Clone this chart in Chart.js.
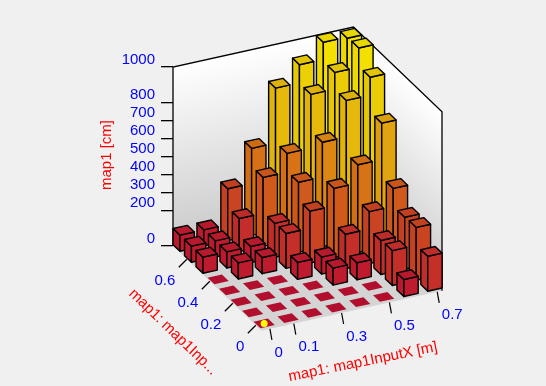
<!DOCTYPE html>
<html>
<head>
<meta charset="utf-8">
<style>
html, body { margin: 0; padding: 0; background: #f0f0f0; }
canvas { display: block; }
</style>
<script src="https://cdn.jsdelivr.net/npm/chart.js@4/dist/chart.umd.min.js"></script>
</head>
<body>
<canvas id="map1Chart" width="546" height="386"></canvas>
<script>
/* --- Data --- */
const xValues = [0, 0.1, 0.2, 0.3, 0.4, 0.5, 0.6, 0.7];
const yValues = [0, 0.1, 0.2, 0.3, 0.4, 0.5, 0.6, 0.7];
// one row per yValue, one entry per xValue [cm]
const heights = [
    [0, 0, 0, 0, 0, 0, 95, 195],
    [0, 0, 0, 0, 0, 0, 195, 295],
    [0, 0, 0, 0, 95, 95, 190, 290],
    [0, 0, 0, 95, 95, 193, 290, 390],
    [0, 90, 90, 195, 290, 388, 490, 693],
    [90, 90, 90, 190, 390, 584, 788, 888],
    [90, 90, 185, 385, 490, 790, 883, 990],
    [90, 90, 290, 486, 793, 894, 990, 983]
];
const xTicks = [0, 0.1, 0.3, 0.5, 0.7];
const yTicks = [0, 0.2, 0.4, 0.6];
const zTicks = [0, 200, 300, 400, 500, 600, 700, 800, 1000];
const xRange = [-0.035, 0.72];
const yRange = [-0.05, 0.72];
const zTop = 1000;
const colorStops = [0, 100, 200, 300, 400, 500, 600, 700, 800, 900, 1000];
const colorValues = ['#b8102f', '#bf1c2e', '#c5302a', '#ca4522', '#d15c1b', '#d87416', '#dd8b13', '#e2a510', '#e6bb0c', '#ecd006', '#f4e200'];

/* --- Oblique view: floor axes expressed in the two plain scales --- */
const runX = 239, riseX = 296, runY = 115, dropY = 615, barHalf = 0.03;

function project(x, y, z) {
    return {
        x: (x - xRange[0]) * runX + (yRange[1] - y) * runY,
        y: z + (x - xRange[0]) * riseX - (yRange[1] - y) * dropY
    };
}

function heatColor(z, shade) {
    let i = 0;
    while (i < colorStops.length - 2 && z > colorStops[i + 1]) i++;
    const t = (z - colorStops[i]) / (colorStops[i + 1] - colorStops[i]);
    const rgb = [1, 3, 5].map(k => {
        const a = parseInt(colorValues[i].substr(k, 2), 16);
        const b = parseInt(colorValues[i + 1].substr(k, 2), 16);
        return Math.round((a + (b - a) * t) * shade);
    });
    return `rgb(${rgb.join(',')})`;
}

function polygon(corners, fillColor, lineWidth) {
    const pts = corners.map(c => project(c[0], c[1], c[2]));
    pts.push(pts[0]);
    return {
        data: pts, showLine: true, fill: 'shape', tension: 0, clip: false,
        pointRadius: 0, backgroundColor: fillColor, borderColor: '#000',
        borderWidth: lineWidth, borderJoinStyle: 'round'
    };
}

function edge(corners) {
    return {
        data: corners.map(c => project(c[0], c[1], c[2])), showLine: true, fill: false,
        tension: 0, clip: false, pointRadius: 0, borderColor: '#000', borderWidth: 1.3
    };
}

// white at the top of a wall down to grey on the floor, square to the wall's bottom edge
function wallGradient(a, b) {
    return (ctx) => {
        const { x: sx, y: sy } = ctx.chart.scales;
        const p = c => { const q = project(c[0], c[1], c[2]); return [sx.getPixelForValue(q.x), sy.getPixelForValue(q.y)]; };
        const p0 = p(a), p1 = p(b);
        if (!Number.isFinite(p0[0] + p0[1] + p1[0] + p1[1])) return '#e8e8e8';
        const mid = [(p0[0] + p1[0]) / 2, (p0[1] + p1[1]) / 2];
        let nx = p1[1] - p0[1], ny = p0[0] - p1[0];
        const len = Math.hypot(nx, ny);
        nx /= len; ny /= len;
        const up = sy.getPixelForValue(zTop) - sy.getPixelForValue(0);
        const t = up * ny;
        const g = ctx.chart.ctx.createLinearGradient(mid[0], mid[1], mid[0] + nx * t, mid[1] + ny * t);
        g.addColorStop(0, '#cacaca');
        g.addColorStop(1, '#ffffff');
        return g;
    };
}

/* --- Datasets, back to front --- */
const [x0, x1] = xRange, [y0, y1] = yRange;
const layers = [];
layers.push(polygon([[x0, y1, 0], [x1, y1, 0], [x1, y1, zTop], [x0, y1, zTop]], wallGradient([x0, y1, 0], [x1, y1, 0]), 0));
layers.push(polygon([[x1, y1, 0], [x1, y0, 0], [x1, y0, zTop], [x1, y1, zTop]], wallGradient([x1, y1, 0], [x1, y0, 0]), 0));
layers.push(polygon([[x0, y0, 0], [x1, y0, 0], [x1, y1, 0], [x0, y1, 0]], '#d4d4d4', 0));
layers.push(edge([[x0, y1, 0], [x0, y1, zTop], [x1, y1, zTop], [x1, y0, zTop], [x1, y0, 0]]));

for (let j = yValues.length - 1; j >= 0; j--) {
    for (let i = xValues.length - 1; i >= 0; i--) {
        const x = xValues[i], y = yValues[j], z = heights[j][i], h = barHalf;
        if (z > 0) {
            layers.push(polygon([[x - h, y + h, 0], [x - h, y - h, 0], [x - h, y - h, z], [x - h, y + h, z]], heatColor(z, 0.97), 1.4));
            layers.push(polygon([[x - h, y - h, 0], [x + h, y - h, 0], [x + h, y - h, z], [x - h, y - h, z]], heatColor(z, 1), 1.4));
        }
        layers.push(polygon([[x - h, y - h, z], [x + h, y - h, z], [x + h, y + h, z], [x - h, y + h, z]], heatColor(z, 0.96), z > 0 ? 1.4 : 0));
    }
}
layers.push({
    data: [project(0, 0, 0)], showLine: false, clip: false, pointRadius: 3.5,
    pointBackgroundColor: '#ffff00', pointBorderWidth: 0
});

/* --- Floor axes and titles --- */
const floorAxes = {
    id: 'floorAxes',
    afterDatasetsDraw(chart) {
        const { ctx, scales } = chart;
        const px = (x, y) => {
            const q = project(x, y, 0);
            return [scales.x.getPixelForValue(q.x), scales.y.getPixelForValue(q.y)];
        };
        const font = '15px "Liberation Sans", Arial, sans-serif';
        ctx.save();
        ctx.font = font;
        ctx.strokeStyle = '#000';
        ctx.lineWidth = 1.2;
        ctx.textBaseline = 'middle';
        ctx.fillStyle = '#0000ff';
        xTicks.forEach(t => {
            const [a, b] = px(t, y0);
            ctx.beginPath(); ctx.moveTo(a, b); ctx.lineTo(a + 2, b + 11); ctx.stroke();
            ctx.textAlign = 'left';
            ctx.fillText(String(t), a + 4.6, b + 23.5);
        });
        yTicks.forEach(t => {
            const [a, b] = px(x0, t);
            ctx.beginPath(); ctx.moveTo(a, b); ctx.lineTo(a - 8, b + 8); ctx.stroke();
            ctx.textAlign = 'right';
            ctx.fillText(String(t), a - 11.5, b + 21.7);
        });
        ctx.fillStyle = '#ff0000';
        ctx.textAlign = 'center';
        const title = (text, cx, cy, deg) => {
            ctx.save();
            ctx.translate(cx, cy);
            ctx.rotate(deg * Math.PI / 180);
            ctx.fillText(text, 0, 0);
            ctx.restore();
        };
        title('map1 [cm]', 107, 155, -90);
        title('map1: map1InputX [m]', 363, 362, -11.5);
        title('map1: map1Inp...', 173, 332, 44);
        ctx.restore();
    }
};

/* --- Chart.js Setup --- */
const canvasHeight = 386, floorPixel = 246, zPixels = 179;
new Chart(document.getElementById('map1Chart').getContext('2d'), {
    type: 'scatter',
    data: { datasets: layers.reverse() },
    options: {
        responsive: false,
        animation: false,
        layout: { padding: 0, autoPadding: false },
        plugins: { legend: { display: false }, tooltip: { enabled: false } },
        scales: {
            x: { type: 'linear', display: false, min: 0, max: 373 },
            y: {
                type: 'linear',
                position: 'left',
                min: -(canvasHeight - floorPixel) * zTop / zPixels,
                max: floorPixel * zTop / zPixels,
                afterBuildTicks: (scale) => { scale.ticks = zTicks.map(v => ({ value: v })); },
                afterFit: (scale) => {
                    scale.width = 173;
                    scale.paddingTop = 0;
                    scale.paddingBottom = 0;
                },
                border: { display: false },
                grid: { drawOnChartArea: false, drawTicks: true, tickLength: 12, color: '#000', lineWidth: 1.3 },
                ticks: {
                    autoSkip: false, padding: 6, labelOffset: -7.5, color: '#0000ff',
                    font: { family: '"Liberation Sans", Arial, sans-serif', size: 15 },
                    callback: (value) => String(value)
                }
            }
        }
    },
    plugins: [floorAxes]
});
</script>
</body>
</html>
